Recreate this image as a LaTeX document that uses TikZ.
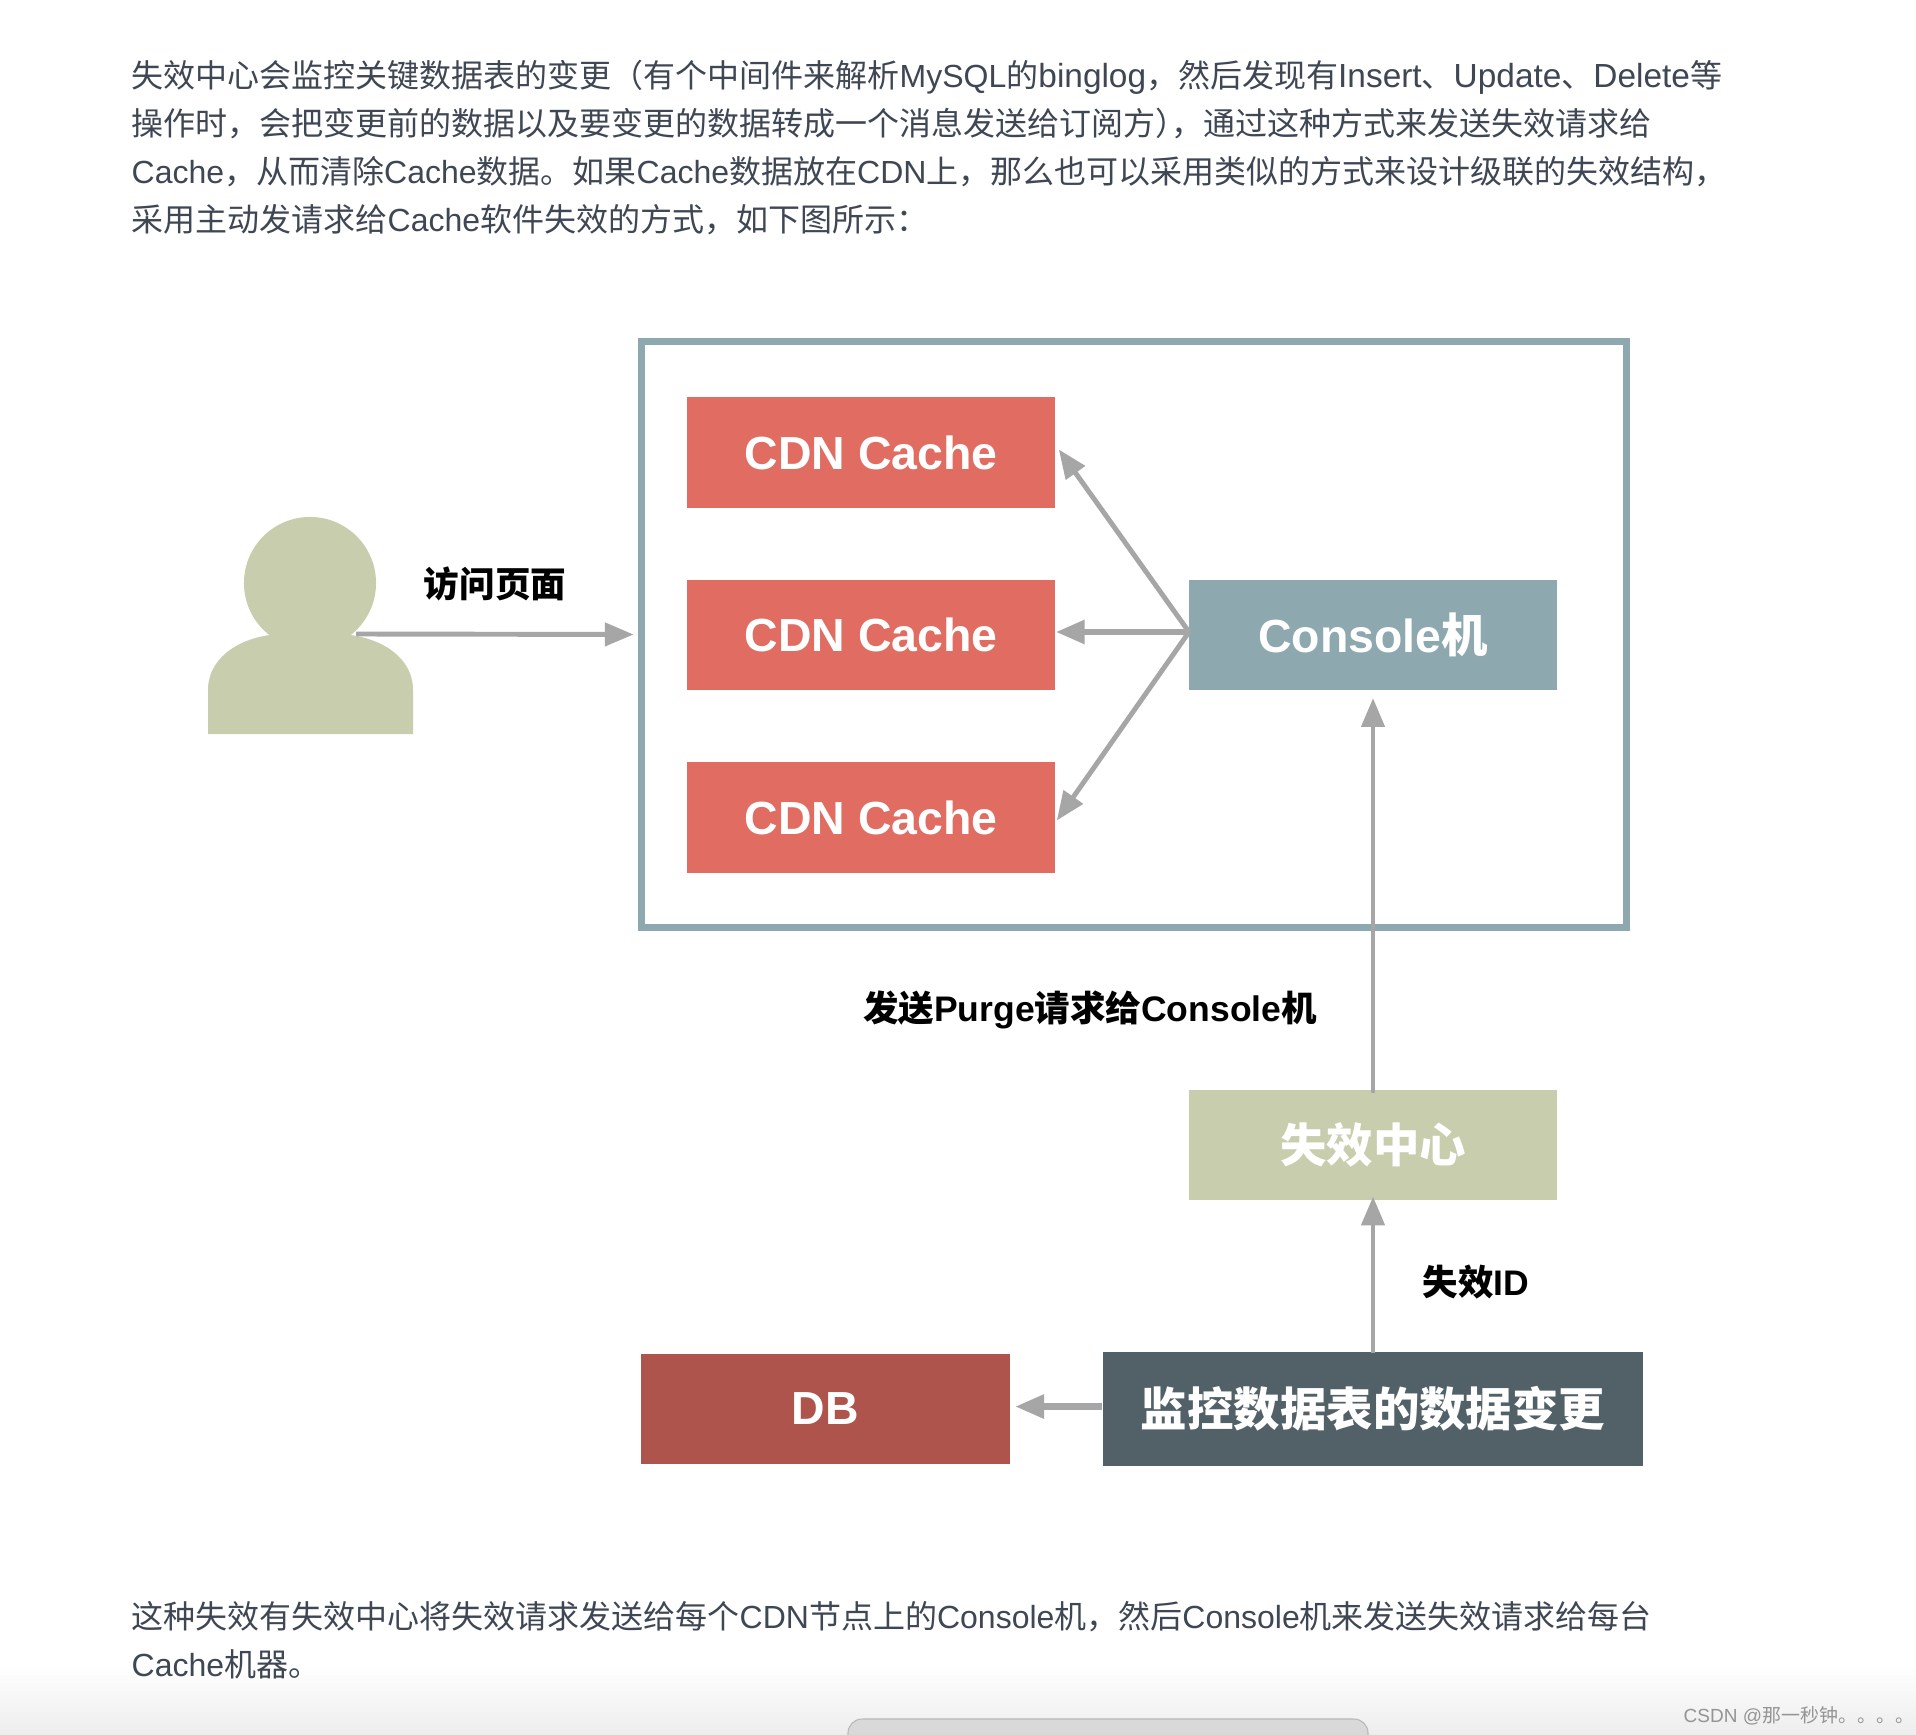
\documentclass[tikz,border=0pt]{standalone}
\usepackage{fontspec}
\setmainfont{Liberation Sans}
\newfontfamily\cjk{Noto Sans CJK SC}
\usepackage{xcolor}
\usetikzlibrary{arrows.meta, positioning, calc}
\definecolor{cacheRed}{HTML}{E06C62}
\definecolor{consoleTeal}{HTML}{8DA8AE}
\definecolor{paleOlive}{HTML}{C8CDAE}
\definecolor{dbRed}{HTML}{AE544C}
\definecolor{monitorSlate}{HTML}{526168}
\definecolor{arrowGray}{HTML}{A6A6A6}
\definecolor{bodyInk}{HTML}{3F4654}
\newcommand{\zh}[1]{{\cjk #1}}
\newcommand{\wide}[1]{{\fontsize{9.5pt}{11pt}\selectfont #1}}

\begin{document}
\begin{tikzpicture}[
    x=0.01cm, y=-0.01cm,
    block/.style={fill=#1, minimum width=3.68cm, minimum height=1.1cm, inner sep=0pt,
                  text=white, font=\fontsize{13.2pt}{15pt}\selectfont\bfseries},
    flow/.style={draw=arrowGray, line width=1.4pt, -{Triangle[length=8.2pt,width=6.5pt]}},
    para/.style={anchor=base west, inner sep=0pt, text=bodyInk, font=\fontsize{9.1pt}{11pt}\selectfont},
    caption/.style={inner sep=0pt, text=black, font=\fontsize{10.1pt}{12pt}\selectfont\bfseries}
]
    \useasboundingbox (0,0) rectangle (1916,1734);
    \fill[white] (0,0) rectangle (1916,1734);
    \shade[top color=white, bottom color=black!7] (0,1665) rectangle (1916,1734);
    \begin{scope}
        \clip (0,0) rectangle (1916,1734);
        \fill[black!15, draw=black!28, line width=0.3pt, rounded corners=4pt] (848,1719) rectangle (1368,1760);
    \end{scope}

    % text above the figure
    \node[para] (introa) at (131,88) {\zh{失效中心会监控关键数据表的变更（有个中间件来解析}MySQL\zh{的}\wide{binglog}\zh{，然后发现有}\wide{Insert}\zh{、}\wide{Update}\zh{、}\wide{Delete}\zh{等}};
    \node[para] (introb) at (131,136) {\zh{操作时，会把变更前的数据以及要变更的数据转成一个消息发送给订阅方）}\kern-4.5pt\zh{，通过这种方式来发送失效请求给}};
    \node[para] (introc) at (131,184) {Cache\zh{，从而清除}Cache\zh{数据。如果}Cache\zh{数据放在}CDN\zh{上，那么也可以采用类似的方式来设计级联的失效结构，}};
    \node[para] (introd) at (131,232) {\zh{采用主动发请求给}Cache\zh{软件失效的方式，如下图所示：}};

    % cdn group
    \node[draw=consoleTeal, line width=2pt, minimum width=9.84cm, minimum height=5.85cm, inner sep=0pt] (edge) at (1134,634.5) {};
    \node[block=cacheRed] (cachea) at (871,452.5) {CDN Cache};
    \node[block=cacheRed, below=0.71cm of cachea] (cacheb) {CDN Cache};
    \node[block=cacheRed, below=0.71cm of cacheb] (cachec) {CDN Cache};
    \node[block=consoleTeal] (console) at (1373,635) {Console\zh{机}};
    \node[block=paleOlive] (center) at (1373,1145) {\zh{失效中心}};
    \node[block=dbRed] (db) at (825.5,1409) {DB};
    \node[block=monitorSlate, minimum width=5.4cm, minimum height=1.14cm] (monitor) at (1373,1409) {\zh{监控数据表的数据变更}};

    % user
    \fill[paleOlive] (208,734) -- (208,690) .. controls (208,655) and (245,634) .. (285,634) -- (335,634) .. controls (376,634) and (413,655) .. (413,690) -- (413,734) -- cycle;
    \node[circle, fill=paleOlive, minimum size=1.32cm, inner sep=0pt] (head) at (310,583) {};
    \coordinate (neck) at (356,634);
    \coordinate (fork) at (1189,632);
    \coordinate (dbout) at ([yshift=0.7pt]monitor.west);

    \draw[flow, shorten >=1.3pt] (neck) -- (edge.west);
    \draw[flow] (fork) -- ([shift={(3,-3)}]cachea.east);
    \draw[flow, line width=1.8pt] (fork) -- (cachea.east |- fork);
    \draw[flow] (fork) -- ([shift={(1,3)}]cachec.east);
    \draw[flow, shorten >=2.1pt, shorten <=-1pt] (center.north) -- (console.south);
    \draw[flow, shorten >=-1.2pt, shorten <=-0.6pt] (monitor.north) -- (center.south);
    \draw[flow, line width=1.8pt, shorten >=1.4pt] (dbout) -- (db.east |- dbout);

    \node[caption] (visit) at (495,584) {\zh{\bfseries 访问页面}};
    \node[caption] (purge) at (1090,1010) {\zh{\bfseries 发送}Purge\zh{\bfseries 请求给}Console\zh{\bfseries 机}};
    \node[caption] (failid) at (1476,1282) {\zh{\bfseries 失效}ID};

    % text below the figure
    \node[para] (outroa) at (131,1628) {\zh{这种失效有失效中心将失效请求发送给每个}CDN\zh{节点上的}Console\zh{机，然后}Console\zh{机来发送失效请求给每台}};
    \node[para] (outrob) at (131,1676) {Cache\zh{机器。}};
    \node[anchor=west, inner sep=0pt, text=black!42, font=\fontsize{5.4pt}{7pt}\selectfont] (mark) at (1683,1716) {CSDN @\zh{那一秒钟。。。。}};
\end{tikzpicture}
\end{document}
